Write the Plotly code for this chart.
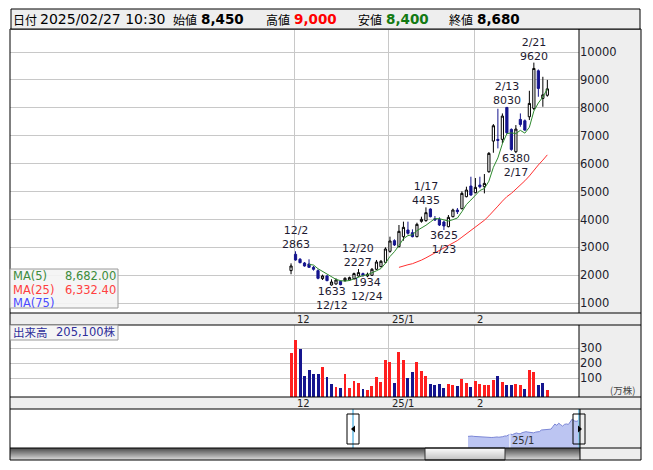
import plotly.graph_objects as go
import pandas as pd

# ---------------- data ----------------
DATES = ["11/29", "12/2", "12/3", "12/4", "12/5", "12/6", "12/9", "12/10", "12/11", "12/12",
         "12/13", "12/16", "12/17", "12/18", "12/19", "12/20", "12/23", "12/24", "12/25", "12/26",
         "12/27", "12/30", "1/6", "1/7", "1/8", "1/9", "1/10", "1/14", "1/15", "1/16",
         "1/17", "1/20", "1/21", "1/22", "1/23", "1/24", "1/27", "1/28", "1/29", "1/30",
         "1/31", "2/3", "2/4", "2/5", "2/6", "2/7", "2/10", "2/12", "2/13", "2/14",
         "2/17", "2/18", "2/19", "2/20", "2/21", "2/25", "2/26", "2/27"]
OPEN = [2170, 2754, 2575, 2443, 2408, 2288, 2169, 1883, 1978, 1656,
        1692, 1787, 1811, 1835, 1883, 1978, 2062, 1978, 2002, 2217,
        2312, 2467, 2861, 3243, 3028, 3386, 3625, 3529, 3386, 3935,
        3959, 4376, 4030, 4006, 3911, 3744, 4102, 4340, 4388, 4818,
        5199, 4961, 5235, 5176, 5712, 6810, 6870, 6870, 8015, 7227,
        6428, 7585, 7538, 7681, 7979, 9327, 8337, 8450]
HIGH = [2430, 2863, 2622, 2479, 2575, 2336, 2217, 2026, 2014, 1859,
        1895, 1811, 1931, 1954, 2098, 2227, 2098, 2098, 2264, 2551,
        2551, 3004, 3386, 3291, 3804, 3923, 3923, 3648, 3887, 4102,
        4435, 4400, 4126, 4078, 3959, 4161, 4388, 4412, 5008, 5176,
        5533, 5486, 5533, 5629, 6416, 7418, 7967, 7800, 8030, 7263,
        7383, 7800, 7585, 8611, 9620, 9375, 9112, 9000]
LOW = [2040, 2527, 2432, 2312, 2264, 2169, 1859, 1835, 1790, 1633,
       1668, 1644, 1775, 1811, 1859, 1954, 1954, 1934, 1978, 2193,
       2288, 2432, 2813, 3052, 3004, 3243, 3458, 3362, 3362, 3887,
       3923, 4078, 3959, 3768, 3625, 3720, 4078, 4197, 4364, 4794,
       4853, 4937, 5116, 4937, 5676, 6392, 6548, 6726, 7060, 6464,
       6380, 7323, 7180, 7562, 7920, 8397, 8039, 8400]
CLOSE = [2336, 2551, 2455, 2336, 2288, 2217, 1895, 1978, 1811, 1763,
         1835, 1668, 1895, 1919, 2062, 2098, 1990, 2038, 2217, 2479,
         2503, 2945, 3231, 3088, 3577, 3720, 3505, 3386, 3827, 4006,
         4245, 4102, 3983, 3804, 3768, 4078, 4340, 4281, 4937, 5056,
         4877, 5152, 5176, 5295, 6369, 7359, 6834, 7705, 7108, 6512,
         7239, 7406, 7204, 8158, 9411, 8695, 8465, 8680]
# volume in 万株
VOLUME = [271, 356, 296, 116, 156, 129, 129, 173, 107, 62,
          42, 36, 129, 36, 82, 69, 27, 20, 49, 107,
          76, 222, 209, 69, 276, 222, 102, 142, 209, 149,
          116, 62, 56, 62, 36, 62, 56, 49, 96, 69,
          42, 82, 62, 56, 56, 89, 116, 76, 56, 56,
          62, 56, 29, 156, 142, 56, 69, 20.5]
# 1 = close above previous close (red), 0 = below (blue)
VOL_UP = [1, 1, 0, 0, 0, 0, 0, 1, 0, 0,
          1, 0, 1, 1, 1, 1, 0, 1, 1, 1,
          1, 1, 1, 0, 1, 1, 0, 0, 1, 1,
          1, 0, 0, 0, 0, 1, 1, 0, 1, 1,
          0, 1, 1, 1, 1, 1, 0, 1, 0, 0,
          1, 1, 0, 1, 1, 0, 0, 1]
MONTH_TICK_IDX = [1, 22, 41]
MONTH_TICK_TEXT = ["12", "25/1", "2"]
NAV_TICK_IDX = [22]
NAV_TICK_TEXT = ["25/1"]
PRICE_TICKS = [1000, 2000, 3000, 4000, 5000, 6000, 7000, 8000, 9000, 10000]
VOL_TICKS = [100, 200, 300]
HIGH_LABEL_IDX = [1, 15, 30, 48, 54]
LOW_LABEL_IDX = [9, 17, 34, 50]
INFO_DATETIME = "2025/02/27 10:30"
MA5_LAST = 8682.00
MA25_LAST = 6332.40
LAST_VOLUME_SHARES = 205100

X = list(range(len(DATES)))
ma5 = pd.Series(CLOSE).rolling(5).mean()
ma25 = pd.Series(CLOSE).rolling(25).mean()

# ---------------- geometry helpers (layout only) ----------------
W, H = 653, 470
PL, PR, PT, PB = 10, 579, 30, 460


def xp(px):
    return (px - PL) / (PR - PL)


def yp(py):
    return (PB - py) / (PB - PT)


FONT = "DejaVu Sans, Noto Sans CJK JP, sans-serif"
JFONT = "Noto Sans CJK JP, DejaVu Sans, sans-serif"
RED = "#ff1f1f"
NAVY = "#15158e"
GRID = "#c8c8c8"
PANEL = "#eeeeee"

VOL_FLOOR = -26.7
NAV_FLOOR = -2400

fig = go.Figure()

# main candles
fig.add_trace(go.Candlestick(
    x=X, open=OPEN, high=HIGH, low=LOW, close=CLOSE,
    increasing=dict(fillcolor="white", line=dict(color="black", width=1)),
    decreasing=dict(fillcolor=NAVY, line=dict(color=NAVY, width=1)),
    whiskerwidth=0, hoverinfo="skip", showlegend=False,
    xaxis="x", yaxis="y"))
fig.add_trace(go.Scatter(x=X, y=ma25, mode="lines", line=dict(color="#ff3030", width=1),
                         hoverinfo="skip", showlegend=False, xaxis="x", yaxis="y"))
fig.add_trace(go.Scatter(x=X, y=ma5, mode="lines", line=dict(color="#2e8a2e", width=1),
                         hoverinfo="skip", showlegend=False, xaxis="x", yaxis="y"))

# volume
fig.add_trace(go.Bar(
    x=X, y=[v - VOL_FLOOR for v in VOLUME], base=VOL_FLOOR, width=0.66,
    marker=dict(color=[RED if u else NAVY for u in VOL_UP], line=dict(width=0)),
    hoverinfo="skip", showlegend=False, xaxis="x2", yaxis="y2"))

# navigator
fig.add_trace(go.Scatter(x=X, y=[NAV_FLOOR] * len(X), mode="lines", line=dict(width=0),
                         hoverinfo="skip", showlegend=False, xaxis="x3", yaxis="y3"))
fig.add_trace(go.Scatter(x=X, y=CLOSE, mode="lines", fill="tonexty", fillcolor="#bcc5f2",
                         line=dict(color="#7b86d6", width=1),
                         hoverinfo="skip", showlegend=False, xaxis="x3", yaxis="y3"))

grid_x = [i - 0.3 for i in MONTH_TICK_IDX]
XRANGE = [-62.5, 64.04]

axis_common = dict(showline=False, zeroline=False, ticks="", fixedrange=True)
fig.update_layout(
    width=W, height=H,
    margin=dict(l=PL, r=W - PR, t=PT, b=H - PB),
    paper_bgcolor="white", plot_bgcolor="white",
    showlegend=False, bargap=0,
    xaxis=dict(domain=[0, 1], range=XRANGE, anchor="y", tickvals=grid_x, showticklabels=False,
               showgrid=True, gridcolor=GRID, gridwidth=1, rangeslider=dict(visible=False), **axis_common),
    yaxis=dict(domain=[yp(313), 1], range=[652, 10788], anchor="x", side="right",
               tickvals=PRICE_TICKS, ticktext=[str(v) for v in PRICE_TICKS],
               showgrid=True, gridcolor=GRID, gridwidth=1,
               tickfont=dict(family=FONT, size=11.5, color="#1c1c2c"), **axis_common),
    xaxis2=dict(domain=[0, 1], range=XRANGE, anchor="y2", tickvals=grid_x, showticklabels=False,
                showgrid=True, gridcolor=GRID, gridwidth=1, **axis_common),
    yaxis2=dict(domain=[yp(397), yp(325)], range=[VOL_FLOOR, 455], anchor="x2", side="right",
                tickvals=VOL_TICKS, showgrid=True, gridcolor=GRID, gridwidth=1,
                tickfont=dict(family=FONT, size=11.5, color="#1c1c2c"), **axis_common),
    xaxis3=dict(domain=[0, 1], range=[-237.3, 57.5], anchor="y3", showgrid=False,
                showticklabels=False, **axis_common),
    yaxis3=dict(domain=[yp(448), yp(409)], range=[NAV_FLOOR, 13500], anchor="x3",
                showgrid=False, showticklabels=False, **axis_common),
)

shapes = []


def rect(x0, y0, x1, y1, fill=None, line="black", width=1, layer="above"):
    shapes.append(dict(type="rect", xref="paper", yref="paper",
                       x0=xp(x0), x1=xp(x1), y0=yp(y0), y1=yp(y1),
                       fillcolor=fill if fill else "rgba(0,0,0,0)",
                       line=dict(color=line, width=width) if width else dict(width=0),
                       layer=layer))


def hline(x0, x1, y, color="black", width=1):
    shapes.append(dict(type="line", xref="paper", yref="paper", x0=xp(x0), x1=xp(x1),
                       y0=yp(y), y1=yp(y), line=dict(color=color, width=width), layer="above"))


def vline(x, y0, y1, color="black", width=1):
    shapes.append(dict(type="line", xref="paper", yref="paper", x0=xp(x), x1=xp(x),
                       y0=yp(y0), y1=yp(y1), line=dict(color=color, width=width), layer="above"))


# gray panels
rect(579, 29, 641, 460, fill=PANEL, width=0, layer="below")
rect(10, 313, 641, 325, fill=PANEL, width=0, layer="below")
rect(10, 397, 641, 409, fill=PANEL, width=0, layer="below")

# scrollbar gradient
n_bands = 12
for k in range(n_bands):
    t = k / (n_bands - 1)
    c = int(0x50 + (0xd8 - 0x50) * t)
    rect(10, 448 + k, 580, 449 + k, fill=f"rgb({c},{c},{c})", width=0)
    c2 = int(0xfa + (0xc4 - 0xfa) * t)
    rect(425, 448 + k, 505, 449 + k, fill=f"rgb({c2},{c2},{c2})", width=0)
rect(425, 448, 505, 460, line="#333333")

# navigator grid and handles
for i in NAV_TICK_IDX:
    shapes.append(dict(type="line", xref="x3", yref="paper", x0=i - 0.3, x1=i - 0.3,
                       y0=yp(448), y1=yp(409), line=dict(color="white", width=1), layer="above"))
vline(353, 409, 448, color="#1e9ad6")
vline(579, 409, 448, color="#1e9ad6")
rect(347, 414, 359, 444, line="black")
rect(573, 414, 585, 444, line="black")
shapes.append(dict(type="path", xref="paper", yref="paper",
                   path=f"M {xp(351)} {yp(429)} L {xp(355)} {yp(425.5)} L {xp(355)} {yp(432.5)} Z",
                   fillcolor="black", line=dict(width=0), layer="above"))
shapes.append(dict(type="path", xref="paper", yref="paper",
                   path=f"M {xp(582)} {yp(429)} L {xp(578)} {yp(425.5)} L {xp(578)} {yp(432.5)} Z",
                   fillcolor="black", line=dict(width=0), layer="above"))

# borders
rect(10, 29, 641, 460)
for y in (313, 325, 397, 409, 448):
    hline(10, 641, y)
vline(579, 29, 313)
vline(579, 325, 397)
vline(580, 409, 460)

# info bar
rect(11, 9, 640, 29, fill=PANEL, line="black")

# legend boxes
rect(10, 269, 118, 308, fill="rgba(244,244,244,0.9)", line="#9a9a9a")
rect(10, 325, 118, 340, fill="rgba(244,244,244,0.9)", line="#9a9a9a")

annotations = []


def txt(px, py, s, size=12, color="black", anchor="left", family=FONT):
    annotations.append(dict(xref="paper", yref="paper", x=xp(px), y=yp(py), text=s,
                            showarrow=False, xanchor=anchor, yanchor="middle",
                            font=dict(family=family, size=size, color=color)))


# info bar texts
txt(11, 19.5, "日付", 12, family=JFONT)
txt(38, 19, INFO_DATETIME, 14)
txt(171, 19.5, "始値", 12, family=JFONT)
txt(199, 19, f"<b>{OPEN[-1]:,}</b>", 13.5)
txt(264, 19.5, "高値", 12, family=JFONT)
txt(292, 19, f"<b>{HIGH[-1]:,}</b>", 13.5, color="#ff0000")
txt(356, 19.5, "安値", 12, family=JFONT)
txt(384, 19, f"<b>{LOW[-1]:,}</b>", 13.5, color="#137a13")
txt(447, 19.5, "終値", 12, family=JFONT)
txt(475, 19, f"<b>{CLOSE[-1]:,}</b>", 13.5)

# MA legend
txt(11, 275.5, "MA(5)", 11.5, color="#3c8c3c")
txt(118, 275.5, f"{MA5_LAST:,.2f}", 11.5, color="#3c8c3c", anchor="right")
txt(11, 289.5, "MA(25)", 11.5, color="#ff4040")
txt(118, 289.5, f"{MA25_LAST:,.2f}", 11.5, color="#ff4040", anchor="right")
txt(11, 303, "MA(75)", 11.5, color="#4a4aff")
txt(11, 332.5, "出来高", 11.5, color="#2e2e9a", family=JFONT)
txt(118, 332.5, f"{LAST_VOLUME_SHARES:,}株", 11.5, color="#2e2e9a", anchor="right")
txt(637, 390, "(万株)", 9.5, color="#444444", anchor="right", family=JFONT)

# month labels in the label rows
for i, s in zip(MONTH_TICK_IDX, MONTH_TICK_TEXT):
    for py in (319, 403):
        annotations.append(dict(xref="x", yref="paper", x=i - 0.3, y=yp(py), text=s, showarrow=False,
                                xanchor="left", yanchor="middle", xshift=1,
                                font=dict(family=FONT, size=10, color="#222222")))
for i, s in zip(NAV_TICK_IDX, NAV_TICK_TEXT):
    annotations.append(dict(xref="x3", yref="paper", x=i - 0.3, y=yp(440), text=s, showarrow=False,
                            xanchor="left", yanchor="middle", xshift=0,
                            font=dict(family=FONT, size=10, color="#333333")))

# high / low labels (two lines each)
LBL = "#1e1a30"
for i in HIGH_LABEL_IDX:
    annotations.append(dict(xref="x", yref="y", x=i, y=HIGH[i], text=f"{DATES[i]}<br>{HIGH[i]}",
                            showarrow=False, yanchor="bottom", yshift=-1, borderpad=0,
                            font=dict(family=FONT, size=11, color=LBL)))
for i in LOW_LABEL_IDX:
    annotations.append(dict(xref="x", yref="y", x=i, y=LOW[i], text=f"{LOW[i]}<br>{DATES[i]}",
                            showarrow=False, yanchor="top", yshift=2, borderpad=0,
                            font=dict(family=FONT, size=11, color=LBL)))

fig.update_layout(shapes=shapes, annotations=annotations)
fig.write_html("out.html", config={"displayModeBar": False},
               post_script="document.body.style.margin='0';document.body.style.padding='0';")
